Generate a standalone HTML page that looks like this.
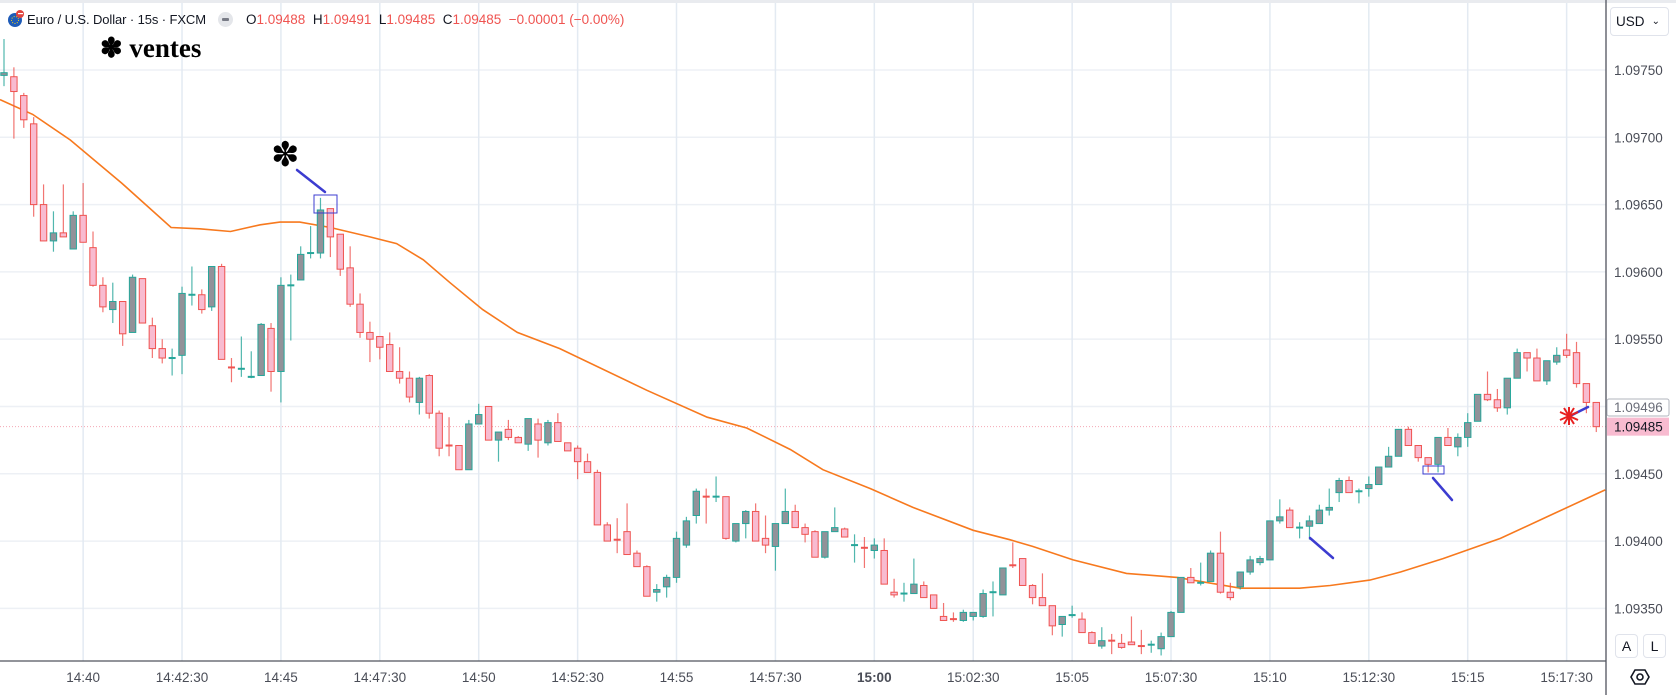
<!DOCTYPE html>
<html><head><meta charset="utf-8">
<style>
html,body{margin:0;padding:0;background:#fff;}
body{width:1676px;height:695px;position:relative;overflow:hidden;font-family:"Liberation Sans",sans-serif;}
#chart{position:absolute;left:0;top:0;}
.hdr{position:absolute;top:12px;font-size:13px;letter-spacing:-0.1px;color:#131722;white-space:nowrap;}
.ohlc{position:absolute;top:12px;left:246px;font-size:13.5px;color:#ef5350;white-space:nowrap;}
.ohlc b{font-weight:normal;color:#131722;}
.btn{position:absolute;border:1px solid #e0e3eb;border-radius:4px;background:#fff;font-size:14px;color:#131722;text-align:center;}
</style></head>
<body>
<svg id="chart" width="1676" height="695" xmlns="http://www.w3.org/2000/svg"></svg>

<div class="hdr" style="left:8px;top:10px;width:16px;height:16px;">
<svg width="16" height="18"><circle cx="7" cy="10" r="7" fill="#1e5bb8"/><circle cx="12" cy="4" r="4" fill="#e0443f"/><rect x="10" y="3" width="5" height="1.2" fill="#fff"/><circle cx="7" cy="10" r="3.5" fill="none" stroke="#f5d020" stroke-dasharray="1 1.5"/></svg>
</div>
<div class="hdr" style="left:27px;">Euro / U.S. Dollar · 15s · FXCM</div>
<div style="position:absolute;left:218px;top:12px;width:15px;height:15px;border-radius:50%;background:#e4e6ea;"><div style="position:absolute;left:4px;top:6px;width:7px;height:3px;background:#787b86;border-radius:1px;"></div></div>
<div class="ohlc"><b>O</b>1.09488 &nbsp;<b>H</b>1.09491 &nbsp;<b>L</b>1.09485 &nbsp;<b>C</b>1.09485 &nbsp;−0.00001 (−0.00%)</div>
<div style="position:absolute;left:100px;top:33px;font-family:'Liberation Serif',serif;font-weight:bold;font-size:27px;color:#000;">✽ ventes</div>
<div style="position:absolute;left:271px;top:135px;font-family:'DejaVu Sans',sans-serif;font-weight:bold;font-size:34px;color:#000;line-height:40px;">✽</div>

<div class="btn" style="left:1610px;top:7px;width:57px;height:27px;line-height:27px;text-align:left;padding-left:0;"><span style="margin-left:5px;font-size:13.5px;">USD</span><span style="position:absolute;right:8px;top:0;font-size:10px;">⌄</span></div>
<div class="btn" style="left:1615px;top:634px;width:21px;height:22px;line-height:22px;">A</div>
<div class="btn" style="left:1643px;top:634px;width:21px;height:22px;line-height:22px;">L</div>
<div style="position:absolute;left:1630px;top:667px;width:20px;height:20px;">
<svg width="20" height="20"><polygon points="5,3 15,3 19,10 15,17 5,17 1,10" fill="none" stroke="#131722" stroke-width="1.6"/><circle cx="10" cy="10" r="3" fill="none" stroke="#131722" stroke-width="1.6"/></svg></div>

<script>
// ---- data (prices in points, 1e-5) ----
const opens =  [109746,109745,109731,109710,109650,109623,109629,109617,109642,109618,109590,109572,109578,109555,109595,109560,109543,109535,109538,109582,109583,109574,109604,109529,109527,109521,109523,109558,109526,109589,109594,109613,109614,109647,109628,109603,109576,109555,109552,109546,109526,109521,109503,109523,109495,109471,109471,109453,109487,109500,109475,109483,109477,109472,109487,109473,109488,109473,109469,109459,109451,109412,109401,109407,109391,109381,109362,109366,109373,109397,109419,109433,109432,109433,109400,109413,109422,109402,109396,109413,109422,109410,109407,109388,109407,109409,109397,109395,109393,109393,109362,109360,109361,109367,109360,109344,109342,109341,109344,109344,109361,109360,109382,109387,109367,109358,109352,109338,109344,109342,109332,109322,109326,109324,109325,109322,109322,109320,109329,109347,109373,109368,109370,109391,109362,109366,109377,109384,109386,109415,109423,109409,109411,109413,109423,109436,109445,109436,109439,109442,109455,109463,109483,109471,109462,109457,109477,109470,109477,109489,109509,109505,109499,109521,109540,109536,109519,109533,109542,109540,109517,109503];
const highs =  [109773,109752,109733,109715,109665,109645,109665,109645,109666,109630,109596,109592,109578,109598,109595,109566,109550,109543,109589,109604,109587,109604,109606,109536,109552,109541,109562,109562,109596,109598,109619,109634,109655,109647,109628,109619,109584,109563,109552,109555,109544,109526,109522,109524,109497,109492,109471,109490,109502,109500,109481,109490,109478,109491,109491,109490,109495,109473,109471,109465,109453,109414,109417,109428,109393,109382,109368,109375,109407,109418,109439,109439,109448,109433,109413,109423,109428,109419,109413,109439,109427,109413,109408,109407,109425,109410,109405,109403,109402,109402,109372,109369,109387,109370,109360,109354,109347,109349,109347,109364,109370,109365,109399,109387,109368,109376,109352,109344,109352,109347,109333,109336,109331,109331,109344,109334,109326,109332,109348,109348,109380,109384,109393,109407,109369,109367,109389,109389,109415,109431,109425,109414,109419,109427,109439,109447,109448,109439,109448,109443,109470,109483,109485,109471,109462,109477,109484,109480,109495,109489,109526,109513,109521,109543,109540,109543,109534,109544,109554,109548,109517,109503];
const lows =   [109738,109699,109707,109641,109623,109615,109626,109617,109622,109589,109570,109562,109545,109555,109562,109536,109532,109523,109524,109575,109569,109571,109535,109518,109522,109521,109523,109511,109503,109549,109594,109610,109610,109611,109597,109574,109551,109533,109535,109526,109517,109503,109494,109491,109463,109463,109453,109453,109487,109475,109459,109475,109473,109467,109462,109471,109474,109467,109446,109451,109412,109400,109391,109390,109381,109359,109355,109358,109369,109395,109413,109413,109429,109401,109399,109402,109400,109391,109378,109413,109410,109399,109388,109387,109407,109403,109384,109380,109387,109368,109358,109355,109361,109358,109350,109341,109340,109340,109341,109343,109344,109360,109380,109367,109353,109352,109330,109329,109343,109332,109324,109320,109316,109320,109323,109316,109317,109315,109329,109347,109369,109367,109370,109361,109356,109364,109375,109382,109386,109413,109410,109402,109401,109413,109419,109429,109436,109428,109433,109442,109455,109463,109471,109459,109451,109451,109471,109463,109470,109489,109504,109496,109494,109521,109526,109519,109516,109531,109536,109514,109495,109481];
const closes = [109748,109734,109713,109650,109623,109629,109626,109642,109622,109590,109574,109578,109554,109596,109562,109543,109536,109536,109584,109583,109572,109604,109535,109528,109528,109522,109561,109526,109590,109590,109613,109614,109646,109626,109602,109576,109555,109550,109544,109526,109521,109507,109521,109495,109469,109470,109453,109487,109494,109475,109481,109477,109473,109491,109475,109488,109474,109467,109459,109451,109412,109400,109400,109390,109381,109359,109364,109373,109402,109415,109437,109432,109433,109402,109413,109422,109400,109397,109413,109422,109410,109405,109388,109407,109410,109403,109397,109394,109397,109368,109360,109361,109368,109358,109350,109341,109341,109347,109347,109361,109362,109380,109381,109367,109358,109352,109337,109344,109345,109332,109324,109326,109325,109321,109323,109321,109323,109329,109347,109373,109369,109369,109391,109362,109358,109377,109386,109387,109415,109418,109410,109410,109415,109423,109425,109445,109436,109437,109442,109455,109463,109483,109471,109462,109457,109477,109471,109477,109488,109509,109505,109499,109521,109540,109536,109519,109534,109538,109538,109517,109503,109485];
// moving average (sparse samples: candle index, value)
const maIdx = [-0.4,2.9,6.7,11.9,16.9,19.8,22.9,25.9,27.9,29.9,33,37,39.7,42.4,45.1,48.4,51.9,56.2,65,71.1,75.1,79.5,82.8,87.6,91.9,98,101.7,104,108.1,113.5,118.6,125,131,134.1,138.1,141.2,145.5,151.3,156.3,161.9];
const maVal = [109728,109717,109698,109666,109633,109632,109630,109635,109637,109637,109633,109626,109621,109609,109592,109572,109555,109543,109512,109492,109484,109468,109453,109439,109425,109408,109401,109396,109386,109376,109373,109365,109365,109367,109371,109377,109387,109402,109419,109438];
const priceTicks = [109750,109700,109650,109600,109550,109500,109450,109400,109350];
const timeTickIdx = [8,18,28,38,48,58,68,78,88,98,108,118,128,138,148,158];
const timeTickLabels = ["14:40","14:42:30","14:45","14:47:30","14:50","14:52:30","14:55","14:57:30","15:00","15:02:30","15:05","15:07:30","15:10","15:12:30","15:15","15:17:30"];
const lastPrice = 109485;
const otherPrice = 109496;

// ---- scales ----
const PLOT_R = 1606, PLOT_B = 661;
function xs(i){ return 4 + i*9.89; }
function ys(p){ return 70 + (109750 - p)/0.743; }
function fmt(p){ return (p/100000).toFixed(5); }

const svg = document.getElementById('chart');
const NS = 'http://www.w3.org/2000/svg';
function mk(tag, attrs, parent){
  const e = document.createElementNS(NS, tag);
  for (const k in attrs) e.setAttribute(k, attrs[k]);
  (parent||svg).appendChild(e);
  return e;
}

const tb = mk('rect',{x:0,y:0,width:1676,height:3,fill:'#e9ebef'});



const grid = mk('g',{});


priceTicks.forEach(p=>{
  const l = mk('line',{x1:0,x2:PLOT_R,y1:ys(p),y2:ys(p),stroke:'#edf0f5','stroke-width':1.5},grid);
  
  
});
timeTickIdx.forEach(i=>{
  const l = mk('line',{x1:xs(i),x2:xs(i),y1:3,y2:PLOT_B,stroke:'#e3eaf2','stroke-width':1.5},grid);
  
  
});

const pl = mk('line',{x1:0,x2:PLOT_R,y1:ys(lastPrice),y2:ys(lastPrice),stroke:'#f4a7b4','stroke-width':1,'stroke-dasharray':'1 2'});



let d='';
maIdx.forEach((v,k)=>{ d += (k?'L':'M') + xs(v).toFixed(1)+','+ys(maVal[k]).toFixed(1); });
const ma = mk('path',{d:d,fill:'none',stroke:'#f7791e','stroke-width':1.6});



const cg = mk('g',{});


for (let i=0;i<opens.length;i++){
  const up = closes[i] >= opens[i];
  const x = xs(i);
  const g = mk('g',{},cg);
  
  
  const wc = up ? '#26a69a' : '#ef5350';
  mk('line',{x1:x,x2:x,y1:ys(highs[i]),y2:ys(lows[i]),stroke:wc,'stroke-width':1.2,opacity:0.8},g);
  const top = ys(Math.max(opens[i],closes[i])), bot = ys(Math.min(opens[i],closes[i]));
  const h = Math.max(bot-top,1);
  if (h < 2.5){
    mk('rect',{x:x-3.5,y:top-1,width:7,height:2,fill:wc},g);
  } else {
    mk('rect',{x:x-3.2,y:top,width:6.4,height:h,fill:up?'#929299':'#f8bbd0',stroke:wc,'stroke-width':1},g);
  }
}

function line(x1,y1,x2,y2,c,w,name){
  const l = mk('line',{x1:x1,y1:y1,x2:x2,y2:y2,stroke:c,'stroke-width':w,'stroke-linecap':'round'});
  
  
}
line(297,170,325,192,'#3c3cd0',2.5,'arrow-line-1');
line(1310,538,1333,558,'#3c3cd0',2.5,'arrow-line-2');
line(1433,478,1452,500,'#3c3cd0',2.5,'arrow-line-3');
line(1570,416,1588,407,'#3c3cd0',2.5,'arrow-line-4');
const r1 = mk('rect',{x:314,y:195,width:23,height:18,fill:'none',stroke:'#3c3cd0','stroke-width':1});


const r2 = mk('rect',{x:1423,y:466,width:21,height:8,fill:'none',stroke:'#3c3cd0','stroke-width':1});


const star = mk('g',{stroke:'#e82020','stroke-width':2});


[[0,-9,0,9],[-9,-4,9,4],[-9,4,9,-4],[-5,-8,5,8],[-5,8,5,-8]].forEach(s=>mk('line',{x1:1569+s[0],y1:416+s[1],x2:1569+s[2],y2:416+s[3]},star));

const ax = mk('g',{});


mk('line',{x1:PLOT_R,x2:PLOT_R,y1:0,y2:695,stroke:'#50535e','stroke-width':1.3},ax);
priceTicks.forEach(p=>{
  const t = mk('text',{x:1614,y:ys(p)+5,'font-size':13.5,fill:'#4a4d57','font-family':'Liberation Sans, sans-serif'},ax);
  t.textContent = fmt(p);
  
  
});
const tax = mk('g',{});


mk('line',{x1:0,x2:PLOT_R,y1:PLOT_B,y2:PLOT_B,stroke:'#50535e','stroke-width':1.3},tax);
timeTickIdx.forEach((i,k)=>{
  const t = mk('text',{x:xs(i),y:682,'font-size':13.5,fill:'#4a4d57','text-anchor':'middle','font-family':'Liberation Sans, sans-serif','font-weight':timeTickLabels[k]==='15:00'?'bold':'normal'},tax);
  t.textContent = timeTickLabels[k];
  
  
});

const b1 = mk('g',{});


mk('rect',{x:1607,y:399,width:62,height:17,rx:2,fill:'#fff',stroke:'#b2b5be'},b1);
const t1 = mk('text',{x:1614,y:412,'font-size':13.5,fill:'#6a6d78','font-family':'Liberation Sans, sans-serif'},b1);
t1.textContent = fmt(otherPrice);
const b2 = mk('g',{});


mk('rect',{x:1607,y:ys(lastPrice)-9,width:62,height:18,fill:'#f8bbd0'},b2);
const t2 = mk('text',{x:1614,y:ys(lastPrice)+5,'font-size':13.5,fill:'#131722','font-family':'Liberation Sans, sans-serif'},b2);
t2.textContent = fmt(lastPrice);
</script>
</body></html>
